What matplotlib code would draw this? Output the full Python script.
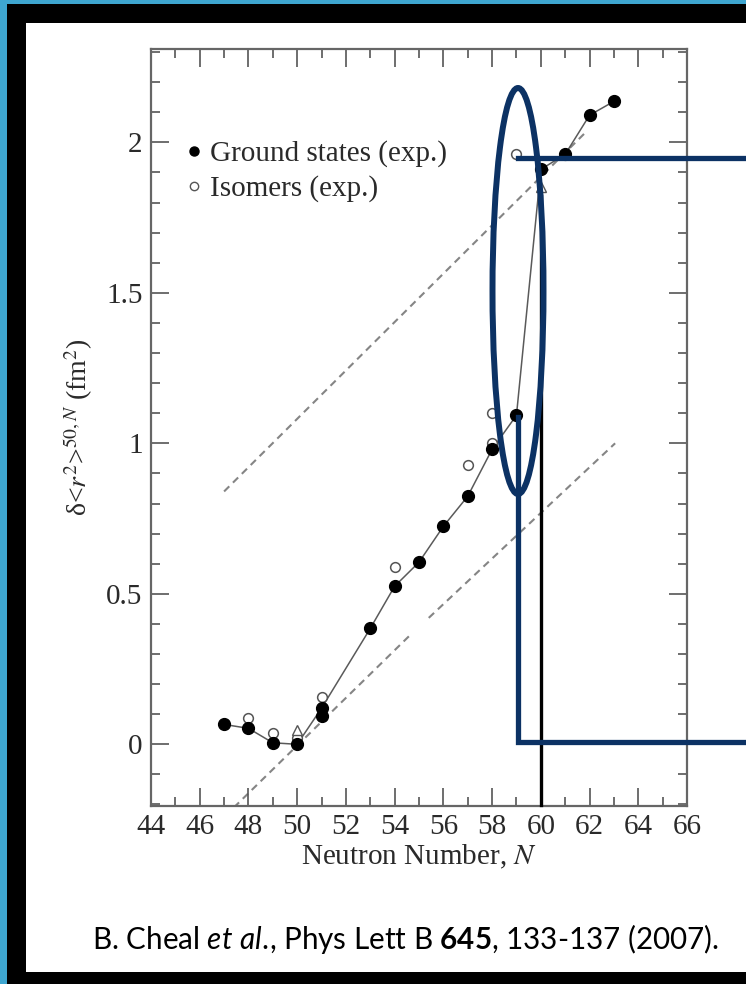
import numpy as np
import matplotlib
matplotlib.use("Agg")
import matplotlib.pyplot as plt
from matplotlib.lines import Line2D
from matplotlib.patches import Rectangle, Ellipse
from matplotlib.ticker import MultipleLocator

# ground states (filled circles)
N_gs = [47, 48, 49, 50, 51, 53, 54, 55, 56, 57, 58, 59, 60, 61, 62, 63]
dr2_gs = [0.066, 0.053, 0.005, 0.0, 0.12, 0.385, 0.525, 0.605, 0.724, 0.824,
          0.98, 1.093, 1.91, 1.96, 2.09, 2.136]
N_gs_extra = [51]
dr2_gs_extra = [0.093]

# isomers (open circles)
N_iso = [48, 49, 50, 51, 54, 57, 58, 58, 59]
dr2_iso = [0.086, 0.036, 0.02, 0.156, 0.59, 0.927, 1.0, 1.10, 1.96]

# open triangles
N_tri = [50, 60]
dr2_tri = [0.046, 1.85]

# dashed reference lines
N_up = [47, 61.8]
dr2_up = [0.84, 2.03]
N_low1 = [47.4, 54.6]
dr2_low1 = [-0.21, 0.36]
N_low2 = [55.4, 63.05]
dr2_low2 = [0.42, 1.0]

xticks = [44, 46, 48, 50, 52, 54, 56, 58, 60, 62, 64, 66]
yticks = [0, 0.5, 1, 1.5, 2]
ytick_labels = ["0", "0.5", "1", "1.5", "2"]

W, H = 746, 984
fig = plt.figure(figsize=(W / 100, H / 100), dpi=100)
fig.patch.set_facecolor("#3ea6d0")


def fx(x):
    return x / W


def fy(y):
    return 1 - y / H


# slide frame
fig.add_artist(Rectangle((fx(7), fy(984)), 1, (984 - 4) / H, transform=fig.transFigure,
                         facecolor="black", edgecolor="none", zorder=0))
fig.add_artist(Rectangle((fx(26), fy(972)), 1, (972 - 23) / H, transform=fig.transFigure,
                         facecolor="white", edgecolor="none", zorder=0))

ax = fig.add_axes([fx(151), fy(806), (687 - 151) / W, (806 - 49) / H])
ax.set_facecolor("none")

serif = "Liberation Serif"
txt_col = "#2a2a2a"
grey = "#5a5a5a"

ax.plot(N_up, dr2_up, ls=(0, (3.5, 2.5)), color="#858585", lw=1.5, zorder=1)
ax.plot(N_low1, dr2_low1, ls=(0, (3.5, 2.5)), color="#858585", lw=1.5, zorder=1)
ax.plot(N_low2, dr2_low2, ls=(0, (3.5, 2.5)), color="#858585", lw=1.5, zorder=1)

ax.plot(N_gs, dr2_gs, color=grey, lw=1.1, zorder=2)
ax.plot(N_iso, dr2_iso, ls="none", marker="o", ms=7, mfc="white", mec="#555555",
        mew=1.1, zorder=3)
ax.plot(N_tri, dr2_tri, ls="none", marker="^", ms=7, mfc="white", mec="#555555",
        mew=1.0, zorder=3)
ax.plot(N_gs, dr2_gs, ls="none", marker="o", ms=8.5, color="black", zorder=4)
ax.plot(N_gs_extra, dr2_gs_extra, ls="none", marker="o", ms=8.5, color="black", zorder=4)

ax.set_xlim(44, 66)
ax.set_ylim(-0.205, 2.31)
ax.set_xticks(xticks)
ax.set_yticks(yticks)
ax.set_yticklabels(ytick_labels)
ax.xaxis.set_minor_locator(MultipleLocator(1))
ax.yaxis.set_minor_locator(MultipleLocator(0.1))
ax.tick_params(which="both", direction="in", top=True, right=True, color="#555555",
               width=1.2, labelsize=21, labelcolor=txt_col, pad=6)
ax.tick_params(which="major", length=13)
ax.tick_params(which="minor", length=6.5)
for lab in ax.get_xticklabels() + ax.get_yticklabels():
    lab.set_fontfamily(serif)
for sp in ax.spines.values():
    sp.set_color("#666666")
    sp.set_linewidth(1.6)

ax.set_xlabel("Neutron Number, $N$", fontsize=21, fontfamily=serif, color=txt_col,
              labelpad=2, math_fontfamily="stix")
ax.set_ylabel("δ<$r^2$>$^{50,N}$ (fm$^2$)", fontsize=20, fontfamily=serif,
              color=txt_col, labelpad=8, math_fontfamily="stix")

handles = [Line2D([], [], ls="none", marker="o", ms=6.5, color="black"),
           Line2D([], [], ls="none", marker="o", ms=6, mfc="white", mec="#555555", mew=1.0)]
ax.legend(handles, ["Ground states (exp.)", "Isomers (exp.)"], loc="upper left",
          bbox_to_anchor=(0.045, 0.895), frameon=False, handlelength=0.5,
          handletextpad=0.3, labelspacing=0.28, borderaxespad=0,
          prop={"family": serif, "size": 21}, labelcolor=txt_col)

# slide annotations
navy = "#0c3264"
fig.add_artist(Ellipse((fx(518), fy(291)), 51 / W, 406 / H, transform=fig.transFigure,
                       facecolor="none", edgecolor=navy, lw=4.3, zorder=10))
fig.add_artist(Line2D([fx(518), fx(746)], [fy(158), fy(158)], transform=fig.transFigure,
                      color=navy, lw=3.8, zorder=10))
fig.add_artist(Line2D([fx(518), fx(518), fx(746)], [fy(417), fy(742), fy(742)],
                      transform=fig.transFigure, color=navy, lw=3.8, zorder=10,
                      solid_joinstyle="miter"))
fig.add_artist(Line2D([fx(541), fx(541)], [fy(196), fy(805)], transform=fig.transFigure,
                      color="black", lw=2.4, zorder=9))

plt.rcParams["mathtext.fontset"] = "custom"
plt.rcParams["mathtext.rm"] = "Lato"
plt.rcParams["mathtext.it"] = "Lato:italic"
plt.rcParams["mathtext.bf"] = "Lato:bold"
fig.text(fx(406), fy(939),
         r"B. Cheal $\mathit{et\ al.}\!$, Phys Lett B $\mathbf{645}$, 133-137 (2007).",
         ha="center", va="center", fontsize=21.3, fontfamily="Lato", color="black",
         math_fontfamily="custom")

fig.savefig("out.png", dpi=100)
